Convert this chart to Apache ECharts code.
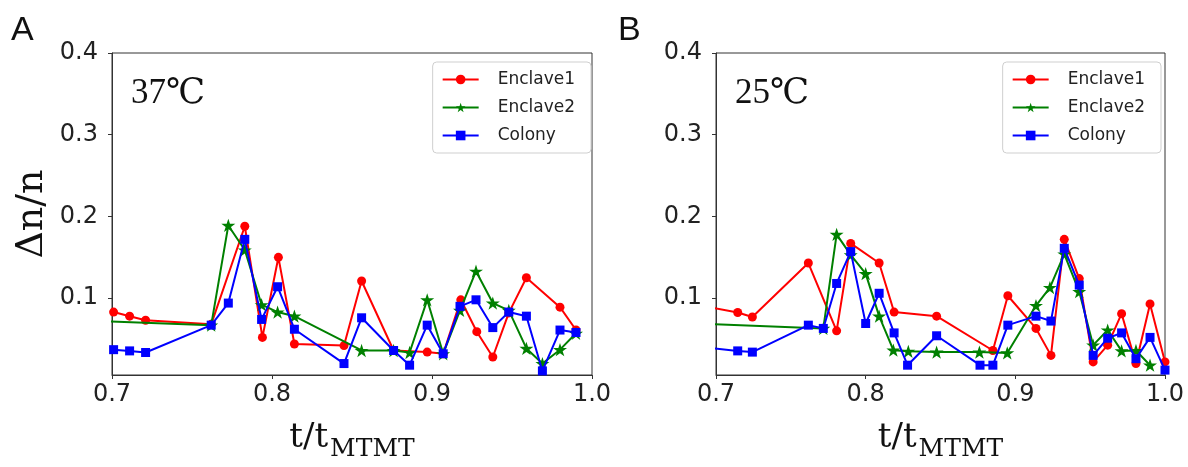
<!DOCTYPE html>
<html>
<head>
<meta charset="utf-8">
<script src="https://cdn.jsdelivr.net/npm/echarts@6/dist/echarts.min.js"></script>
<style>
html,body{margin:0;padding:0;background:#fff;}
#chart{width:1188px;height:467px;}
</style>
</head>
<body>
<div id="chart"></div>
<script>
// ---- Data ----
const seriesNames = ['Enclave1', 'Enclave2', 'Colony'];
const xTicks = [0.7, 0.8, 0.9, 1.0];
const yTicks = [0.1, 0.2, 0.3, 0.4];
const panelTitles = ['37\u2103', '25\u2103'];
const panelLetters = ['A', 'B'];

// Panel A (37°C)
const A_e1_x = [0.701,0.711,0.721,0.762,0.783,0.794,0.804,0.814,0.845,0.856,0.876,0.897,0.907,0.918,0.928,0.938,0.948,0.959,0.980,0.990];
const A_e1_y = [0.083,0.078,0.073,0.068,0.188,0.052,0.150,0.044,0.042,0.121,0.036,0.034,0.032,0.098,0.059,0.028,0.082,0.125,0.089,0.061];
const A_e2_x = [0.690,0.762,0.7727,0.783,0.7935,0.8035,0.814,0.856,0.876,0.886,0.897,0.907,0.9175,0.9275,0.938,0.948,0.959,0.969,0.980,0.990];
const A_e2_y = [0.072,0.067,0.189,0.159,0.092,0.083,0.078,0.036,0.036,0.0335,0.098,0.032,0.085,0.133,0.094,0.085,0.0385,0.020,0.037,0.057];
const A_co_x = [0.701,0.711,0.721,0.762,0.7727,0.783,0.7935,0.8035,0.814,0.845,0.856,0.876,0.886,0.897,0.907,0.9175,0.9275,0.938,0.948,0.959,0.969,0.980,0.990];
const A_co_y = [0.037,0.0355,0.0335,0.067,0.094,0.172,0.074,0.114,0.062,0.020,0.076,0.036,0.018,0.067,0.032,0.090,0.098,0.064,0.083,0.078,0.011,0.061,0.058];

// Panel B (25°C)
const B_e1_x = [0.690,0.7145,0.7243,0.7617,0.7806,0.790,0.809,0.819,0.8474,0.885,0.895,0.9138,0.9238,0.9327,0.9427,0.952,0.9617,0.971,0.9806,0.990,1.000];
const B_e1_y = [0.091,0.0825,0.077,0.143,0.060,0.167,0.143,0.083,0.078,0.036,0.103,0.063,0.030,0.172,0.124,0.022,0.0425,0.081,0.020,0.093,0.022];
const B_e2_x = [0.690,0.7717,0.7806,0.790,0.800,0.809,0.8185,0.8285,0.8474,0.876,0.8946,0.9138,0.9231,0.9327,0.9427,0.952,0.9617,0.971,0.9806,0.990];
const B_e2_y = [0.0687,0.063,0.178,0.153,0.130,0.078,0.0364,0.035,0.034,0.034,0.033,0.091,0.113,0.154,0.108,0.0425,0.061,0.0355,0.036,0.018];
const B_co_x = [0.690,0.7145,0.7243,0.7617,0.7717,0.7806,0.790,0.800,0.809,0.819,0.828,0.8474,0.8764,0.885,0.895,0.9138,0.9238,0.9327,0.9427,0.952,0.9617,0.971,0.9806,0.990,1.000];
const B_co_y = [0.0404,0.0355,0.034,0.067,0.063,0.118,0.157,0.069,0.106,0.0575,0.018,0.054,0.018,0.018,0.067,0.078,0.072,0.161,0.116,0.030,0.051,0.0575,0.026,0.052,0.012];

// ---- Styling / layout ----
const colors = ['#ff0000', '#008000', '#0000ff'];
function starPath() {
  const pts = [];
  for (let i = 0; i < 10; i++) {
    const r = i % 2 === 0 ? 1 : 0.382;
    const a = (-90 + i * 36) * Math.PI / 180;
    pts.push((r * Math.cos(a)).toFixed(4) + ' ' + (r * Math.sin(a)).toFixed(4));
  }
  return 'path://M' + pts.join(' L') + ' Z';
}
const symbols = ['circle', starPath(), 'rect'];
const symbolSizes = [9, 14, 9];

const panelData = [
  [[A_e1_x, A_e1_y], [A_e2_x, A_e2_y], [A_co_x, A_co_y]],
  [[B_e1_x, B_e1_y], [B_e2_x, B_e2_y], [B_co_x, B_co_y]]
];

const grids = [
  {left: 112, top: 53, width: 480, height: 322},
  {left: 716, top: 53, width: 449, height: 322}
];
const legendRight = [591, 1161];

const axisColor = '#333';
const tickFont = {fontFamily: 'DejaVu Sans', fontSize: 24, color: '#222'};

const option = {
  animation: false,
  backgroundColor: '#fff',
  grid: grids.map(g => Object.assign({show: true, borderColor: axisColor, borderWidth: 1, containLabel: false}, g)),
  xAxis: grids.map((g, i) => ({
    type: 'value', gridIndex: i, min: 0.7, max: 1.0,
    axisLine: {show: true, onZero: false, lineStyle: {color: axisColor, width: 1}},
    axisTick: {show: true, length: 4, lineStyle: {color: axisColor}, customValues: xTicks},
    axisLabel: Object.assign({margin: 8, customValues: xTicks, formatter: v => v.toFixed(1)}, tickFont),
    splitLine: {show: false},
    name: '{a|t/t}{s|MTMT}',
    nameLocation: 'middle',
    nameGap: 46,
    nameTextStyle: {
      rich: {
        a: {fontFamily: 'DejaVu Serif', fontSize: 34, color: '#111', verticalAlign: 'top', lineHeight: 34},
        s: {fontFamily: 'DejaVu Serif', fontSize: 25, color: '#111', verticalAlign: 'middle', lineHeight: 25, padding: [22, 0, 0, 2]}
      }
    }
  })),
  yAxis: grids.map((g, i) => ({
    type: 'value', gridIndex: i, min: 0.006, max: 0.4,
    axisLine: {show: true, onZero: false, lineStyle: {color: axisColor, width: 1}},
    axisTick: {show: true, length: 4, lineStyle: {color: axisColor}, customValues: yTicks},
    axisLabel: Object.assign({margin: 14, customValues: yTicks, formatter: v => v.toFixed(1)}, tickFont),
    splitLine: {show: false},
    name: i === 0 ? '\u0394n/n' : '',
    nameLocation: 'middle',
    nameRotate: 90,
    nameGap: 61,
    nameTextStyle: {fontFamily: 'DejaVu Serif', fontSize: 38, color: '#111'}
  })),
  legend: grids.map((g, i) => ({
    orient: 'vertical',
    right: 1188 - legendRight[i],
    top: 62,
    data: seriesNames,
    itemWidth: 36,
    itemHeight: 12,
    itemGap: 11,
    padding: [9, 16, 9, 9],
    borderColor: '#cfcfcf',
    borderWidth: 1,
    borderRadius: 4,
    backgroundColor: '#fff',
    textStyle: {fontFamily: 'DejaVu Sans', fontSize: 17, color: '#222', padding: [0, 0, 0, 14]},
    selectedMode: false
  })),
  graphic: [],
  series: []
};

panelData.forEach((panel, pi) => {
  panel.forEach((d, si) => {
    option.series.push({
      name: seriesNames[si],
      type: 'line',
      xAxisIndex: pi, yAxisIndex: pi,
      data: d[0].map((x, k) => [x, d[1][k]]),
      symbol: symbols[si],
      symbolSize: symbolSizes[si],
      symbolKeepAspect: true,
      showAllSymbol: true,
      clip: true,
      lineStyle: {color: colors[si], width: 2},
      itemStyle: {color: colors[si], borderWidth: 0},
      z: 2 + si
    });
  });
  const g = grids[pi];
  option.graphic.push({
    type: 'text', left: pi === 0 ? 11 : 618, top: 14,
    style: {text: panelLetters[pi], font: '34px "Liberation Sans"', fill: '#111'}
  });
  option.graphic.push({
    type: 'text', left: g.left + 19, top: 76,
    style: {text: panelTitles[pi], font: '35px "Liberation Serif", "DejaVu Serif"', fill: '#111'}
  });
});

const chart = echarts.init(document.getElementById('chart'), null, {renderer: 'canvas'});
chart.setOption(option);
</script>
</body>
</html>
